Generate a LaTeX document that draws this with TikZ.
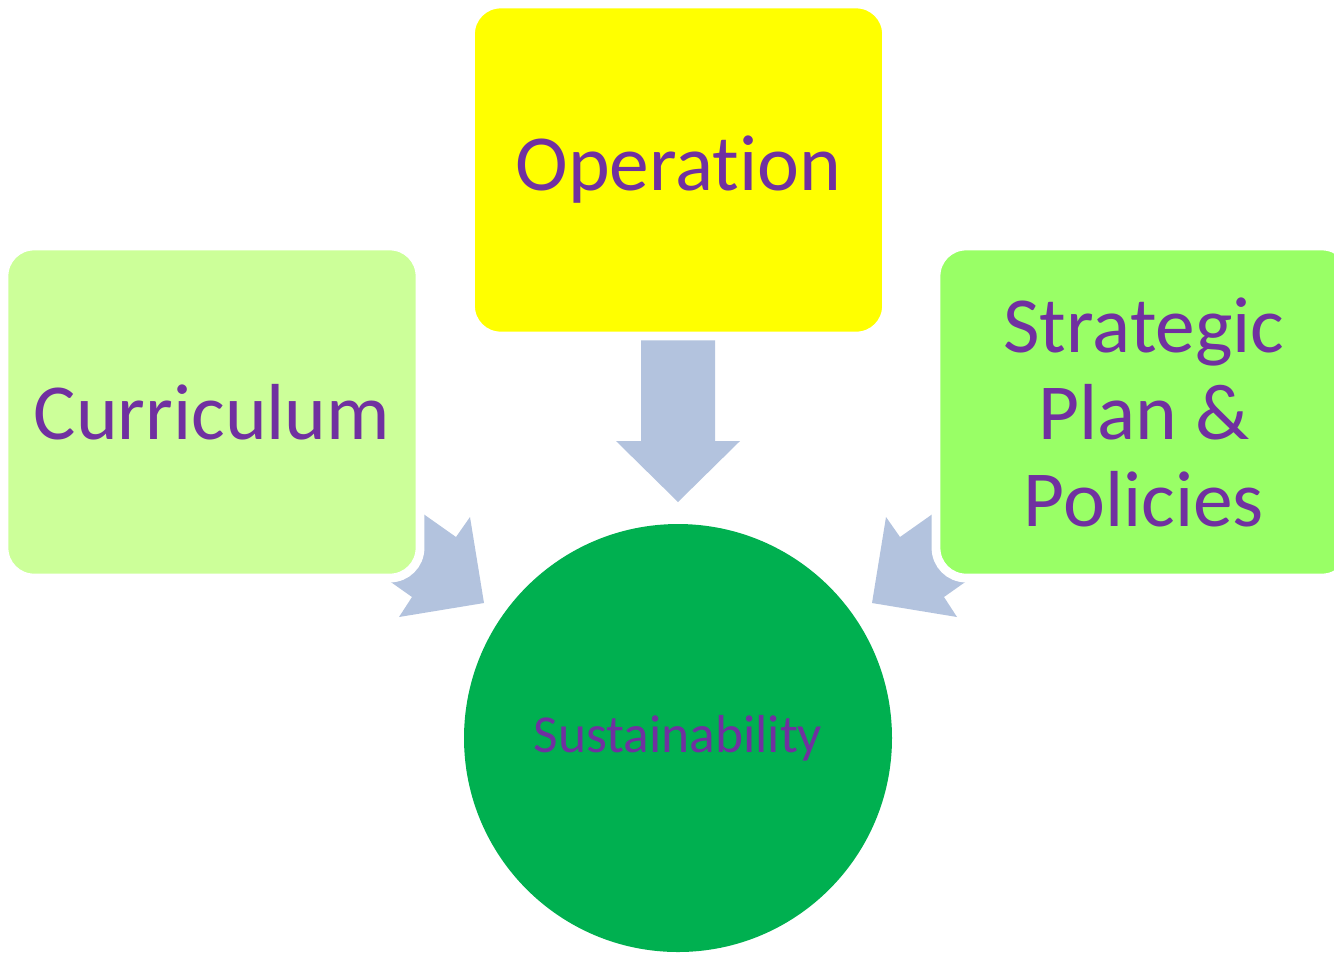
\documentclass[tikz,border=0pt]{standalone}
\usepackage{fontspec}
\setmainfont{Carlito}[Ligatures=NoCommon]
\definecolor{txtpurple}{HTML}{7030A0}
\definecolor{curfill}{HTML}{CCFF99}
\definecolor{opfill}{HTML}{FFFF00}
\definecolor{stratfill}{HTML}{99FF66}
\definecolor{sustfill}{HTML}{00B050}
\definecolor{arrfill}{HTML}{B3C3DE}
\tikzset{
  pillar/.style={rectangle, rounded corners=0.3cm, draw=white, line width=2.5pt,
    minimum width=4.16cm, minimum height=3.32cm, inner sep=0pt, align=center,
    text=txtpurple, font=\fontsize{22.6}{24.75}\selectfont},
  blockarrow/.style={fill=arrfill, draw=none}
}
\begin{document}
\begin{tikzpicture}[y=-1cm]
\useasboundingbox (0,0) rectangle (13.34,9.52);

% block arrows (behind the boxes):
\fill[blockarrow] (6.41,3.37) -- (7.15,3.37) -- (7.15,4.41) -- (7.40,4.41) -- (6.78,5.02) -- (6.16,4.41) -- (6.41,4.41) -- cycle;
\fill[blockarrow] (3.71,4.77) -- (4.56,5.37) -- (4.70,5.17) -- (4.84,6.03) -- (3.99,6.17) -- (4.12,5.97) -- (3.27,5.37) -- cycle;
\fill[blockarrow] (9.85,4.77) -- (9.00,5.37) -- (8.86,5.17) -- (8.72,6.03) -- (9.57,6.17) -- (9.44,5.97) -- (10.29,5.37) -- cycle;

% boxes:
\node[pillar, fill=curfill] (curriculum) at (2.12,4.12) {Curriculum};
\node[pillar, fill=opfill] (operation) at (6.785,1.70) {Operation};
\node[pillar, fill=stratfill] (strategic) at (11.44,4.12) {Strategic\\Plan \&\\Policies};

% centre:
\node[circle, fill=sustfill, minimum size=4.28cm, inner sep=0pt, text=txtpurple,
  font=\fontsize{15.2}{18}\selectfont] (sustain) at (6.78,7.38) {Sustainability};

\end{tikzpicture}
\end{document}
